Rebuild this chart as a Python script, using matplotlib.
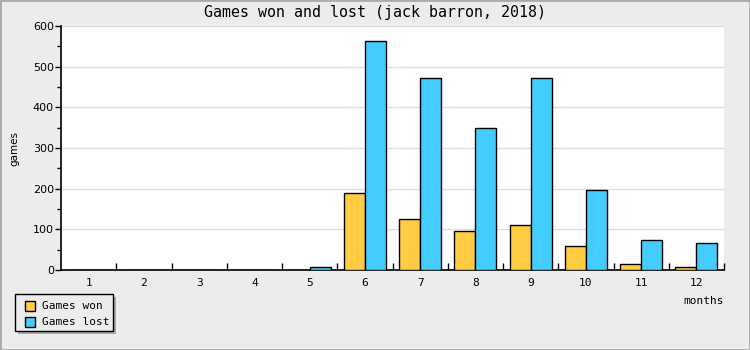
import matplotlib
matplotlib.use("Agg")
import matplotlib.pyplot as plt
from matplotlib.patches import Rectangle
import numpy as np

months = ["1", "2", "3", "4", "5", "6", "7", "8", "9", "10", "11", "12"]
games_won = [0, 0, 0, 0, 0, 189, 125, 95, 110, 58, 14, 7]
games_lost = [0, 0, 0, 0, 7, 563, 472, 349, 472, 196, 75, 66]

W, H = 750, 350
fig = plt.figure(figsize=(W / 100, H / 100), dpi=100, facecolor="#ececec")
L, R, T, B = 61, 724, 26, 270
ax = fig.add_axes([L / W, 1 - B / H, (R - L) / W, (B - T) / H])
ax.set_facecolor("white")

x = np.arange(len(months))
bw = 0.38
ax.bar(x - bw / 2, games_won, bw, color="#ffcc44", edgecolor="black", linewidth=1, label="Games won", zorder=3)
ax.bar(x + bw / 2, games_lost, bw, color="#44ccff", edgecolor="black", linewidth=1, label="Games lost", zorder=3)

ax.set_xlim(-0.5, len(months) - 0.5)
ax.set_ylim(0, 600)
ax.set_yticks(range(0, 601, 100))
ax.set_yticks(range(50, 600, 100), minor=True)
ax.yaxis.grid(True, color="#dddddd", linewidth=1, zorder=0)
ax.set_xticks(x)
ax.set_xticklabels(months, fontsize=8, family="DejaVu Sans Mono")
ax.set_xticks(np.arange(0.5, len(months), 1), minor=True)
ax.tick_params(axis="x", which="major", length=0, pad=6)
ax.tick_params(axis="x", which="minor", direction="in", length=5, width=1)
ax.tick_params(axis="y", which="major", direction="out", length=4, width=1, labelsize=8, pad=1)
ax.tick_params(axis="y", which="minor", direction="out", length=3, width=1)
for lab in ax.get_yticklabels():
    lab.set_family("DejaVu Sans")
for s in ["top", "right"]:
    ax.spines[s].set_visible(False)
for s in ["left", "bottom"]:
    ax.spines[s].set_linewidth(1.2)

fig.text(0.5, 1 - 12 / H, "Games won and lost (jack barron, 2018)", ha="center", va="center",
         fontsize=10.8, family="DejaVu Sans Mono")
fig.text(14 / W, 1 - 148 / H, "games", rotation=90, ha="center", va="center", fontsize=7.5, family="DejaVu Sans")
fig.text(R / W, 1 - 301 / H, "months", ha="right", va="center", fontsize=8, family="DejaVu Sans Mono")

# legend with shadow
fig.patches.append(Rectangle((18 / W, 1 - 334 / H), 98 / W, 37 / H, transform=fig.transFigure,
                             facecolor="#aaaaaa", edgecolor="none", zorder=1))
fig.patches.append(Rectangle((15 / W, 1 - 331 / H), 98 / W, 37 / H, transform=fig.transFigure,
                             facecolor="#ececec", edgecolor="black", linewidth=1, zorder=2))
for i, (lab, col) in enumerate([("Games won", "#ffcc44"), ("Games lost", "#44ccff")]):
    yc = 306 + i * 16
    fig.patches.append(Rectangle((25 / W, 1 - (yc + 5) / H), 10 / W, 10 / H, transform=fig.transFigure,
                                 facecolor=col, edgecolor="black", linewidth=1, zorder=3))
    fig.text(42 / W, 1 - yc / H, lab, ha="left", va="center", fontsize=8, family="DejaVu Sans Mono", zorder=4)

fig.patches.append(Rectangle((0, 0), 1, 1, transform=fig.transFigure, facecolor="none",
                             edgecolor="#aaaaaa", linewidth=2, zorder=0))

fig.savefig("out.png", dpi=100, facecolor=fig.get_facecolor())
